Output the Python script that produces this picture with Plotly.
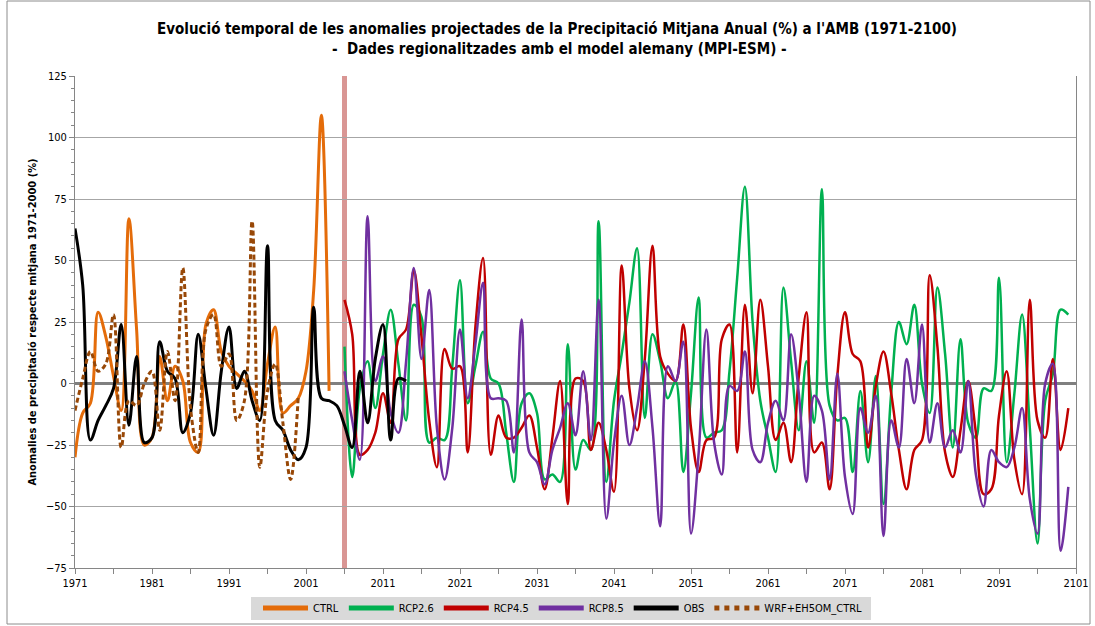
import plotly.graph_objects as go

# ---------------- data ----------------
ctrl_start = 1971
ctrl_values = [-30, -12, -8, 29, 19, 3, -11, 67, 22, -25, -22, 11, -7, 7, 1, -24, -28, 24, 30, 13,
               7, 4, 1, -3, -11, 8, 23, -12, -9, -6, 5, 38, 109, -3]

obs_start = 1971
obs_values = [63, 40, -23, -15, -9, -2, 24, -17, 11, -24, -22, 17, 5, 2, -20, -12, 20, -2, -21, 5,
              23, -2, 5, -7, -15, 56, -15, -19, -27, -31, -26, 31, -6, -7, -9, -17, -26, 5, -16, 10,
              24, -23, 2, 1]

wrf_start = 1971
wrf_values = [-11, 2, 13, 5, 8, 28, -26, -7, -9, 0, 5, -19, 13, -7, 47, -10, -28, 22, 28, 7,
              12, -15, -7, 66, -34, -3, 8, -16, -39, -5]

rcp_start = 2006
rcp26_values = [15, -38, -2, 9, -10, 12, 30, 8, -15, 32,
                27, -24, -22, -23, 7, 42, -8, 7, 21, 2,
                0, -20, -40, -8, -4, -12, -39, -37, -40, 16,
                -35, -23, -27, 66, -40, -7, 12, 33, 55, -14,
                20, 9, -6, 1, -36, -4, 35, -22, -20, -19,
                5, 43, 80, 25, -7, -22, -36, 39, 9, -19,
                9, -16, 79, -9, -15, -14, -36, -3, -32, 3,
                -49, -4, 25, 16, 32, 0, -12, 39, 12, -26,
                18, -16, -22, -2, -3, 43, -32, -4, 28, -18,
                -65, -7, 4, 30, 28]
rcp45_values = [34, 20, -29, -27, -20, -4, -16, 18, 22, 46,
                19, -15, -34, 14, 6, 7, -28, 23, 51, -29,
                -13, -22, -22, -18, -13, -26, -43, -22, 1, -49,
                2, 1, -27, -16, -27, -44, 48, -2, -19, 10,
                56, 11, 4, 1, 24, -18, -36, -23, -22, 18,
                24, -28, 32, -4, 34, 7, -23, -16, -32, 3,
                29, -28, -24, -43, 3, 29, 12, 9, -26, -1,
                13, -4, -27, -43, -27, -23, 44, 15, -28, -38,
                -19, 1, -20, -45, -43, -13, 5, -31, -45, 34,
                -15, -22, 10, -27, -10]
rcp85_values = [5, -15, -31, 68, 1, 11, -12, -20, 9, 47,
                10, 38, -18, -39, -18, 22, -6, 16, 41, -6,
                -6, -7, -28, 26, -28, -32, -41, -27, -18, -8,
                -21, 5, -23, 34, -55, -24, -5, -25, -10, 9,
                -18, -58, 7, 1, 17, -61, -28, 22, -24, -37,
                -1, -3, 13, -27, -32, -16, -7, -15, 20, -4,
                -40, -5, -11, -39, 4, -38, -53, -10, -20, -5,
                -62, -15, -26, 10, -8, 24, -24, -8, -26, -19,
                -28, 1, -37, -50, -27, -32, -34, -26, -10, -47,
                -61, 0, 8, -68, -42]

projection_start_year = 2006
x_tick_years = [1971, 1981, 1991, 2001, 2011, 2021, 2031, 2041, 2051, 2061, 2071, 2081, 2091, 2101]
y_tick_values = [-75, -50, -25, 0, 25, 50, 75, 100, 125]

title_text = ("<b>Evolució temporal de les anomalies projectades de la Precipitació Mitjana Anual (%) a l'AMB (1971-2100)</b><br>"
              "<b> -  Dades regionalitzades amb el model alemany (MPI-ESM) -</b>")
y_title = "<b>Anomalies de precipitació respecte mitjana 1971-2000 (%)</b>"


def years(start, vals):
    return list(range(start, start + len(vals)))


FONT = "Liberation Sans Narrow, DejaVu Sans Condensed, Arial, sans-serif"

series = [
    ("CTRL", ctrl_start, ctrl_values, "#E46C0A", 3, "solid"),
    ("RCP2.6", rcp_start, rcp26_values, "#00B050", 2.5, "solid"),
    ("RCP4.5", rcp_start, rcp45_values, "#C00000", 2.5, "solid"),
    ("RCP8.5", rcp_start, rcp85_values, "#7030A0", 2.5, "solid"),
    ("OBS", obs_start, obs_values, "#000000", 3, "solid"),
    ("WRF+EH5OM_CTRL", wrf_start, wrf_values, "#984807", 3, "5px,3px"),
]

fig = go.Figure()
for name, start, vals, color, w, dash in series:
    fig.add_trace(go.Scatter(
        x=years(start, vals), y=vals, name=name, mode="lines",
        line=dict(color=color, width=w, dash=dash, shape="spline", smoothing=1.0),
        hoverinfo="x+y+name", showlegend=False, legendgroup=name,
    ))
# legend-only entries with thicker sample lines (no data points drawn)
for name, start, vals, color, w, dash in series:
    fig.add_trace(go.Scatter(
        x=[None], y=[None], name=name, mode="lines", legendgroup=name,
        line=dict(color=color, width=5, dash=("dot" if dash != "solid" else "solid")),
        hoverinfo="skip", showlegend=True,
    ))

L, R, T, B = 75, 19, 76, 58
W, H = 1095, 626
pw, ph = W - L - R, H - T - B

def px_to_paper_x(px):
    return (px - L) / pw

def px_to_paper_y(py):
    return (H - B - py) / ph

fig.update_layout(
    width=W, height=H,
    margin=dict(l=L, r=R, t=T, b=B, autoexpand=False),
    paper_bgcolor="white", plot_bgcolor="white",
    font=dict(family=FONT, size=11, color="#000000"),
    title=dict(text=title_text, x=557 / W, xanchor="center", xref="container",
               y=1 - 34 / H, yanchor="top", yref="container",
               font=dict(family=FONT, size=15, color="#000000")),
    showlegend=True,
    legend=dict(orientation="h", x=px_to_paper_x(563), xanchor="center",
                y=px_to_paper_y(608), yanchor="middle",
                bgcolor="rgba(0,0,0,0)", font=dict(family=FONT, size=11, color="#000000"),
                itemwidth=45, tracegroupgap=0),
    xaxis=dict(range=[1971, 2101], tickmode="array", tickvals=x_tick_years,
               ticktext=[str(v) for v in x_tick_years], automargin=False,
               showgrid=False, zeroline=False,
               showline=True, linecolor="#868686", linewidth=1,
               ticks="outside", ticklen=5, tickcolor="#868686",
               minor=dict(dtick=5, tick0=1971, ticks="outside", ticklen=5, tickcolor="#868686", showgrid=False),
               tickfont=dict(family=FONT, size=11, color="#000000")),
    yaxis=dict(range=[-75, 125], tickmode="array", tickvals=y_tick_values, automargin=False,
               showgrid=True, gridcolor="#A6A6A6", gridwidth=1,
               zeroline=True, zerolinecolor="#808080", zerolinewidth=3,
               showline=True, linecolor="#868686", linewidth=1, mirror=True,
               ticks="outside", ticklen=5, tickcolor="#868686",
               minor=dict(dtick=5, tick0=0, ticks="outside", ticklen=3, tickcolor="#868686", showgrid=False),
               tickfont=dict(family=FONT, size=11, color="#000000"),
               title=dict(text=y_title, standoff=7, font=dict(family=FONT, size=11, color="#000000"))),
)

# projection start marker
fig.add_shape(type="line", x0=projection_start_year, x1=projection_start_year, xref="x",
              y0=0, y1=1, yref="paper", line=dict(color="#D99694", width=5), layer="between")

# legend background box
fig.add_shape(type="rect", xref="paper", yref="paper",
              x0=px_to_paper_x(251), x1=px_to_paper_x(871),
              y0=px_to_paper_y(620), y1=px_to_paper_y(597),
              line=dict(width=0), fillcolor="#D9D9D9", layer="above")

# outer chart border
fig.add_shape(type="rect", xref="paper", yref="paper",
              x0=px_to_paper_x(7), x1=px_to_paper_x(1090),
              y0=px_to_paper_y(624), y1=px_to_paper_y(1),
              line=dict(color="#8C8C8C", width=1), fillcolor="rgba(0,0,0,0)", layer="above")

fig.write_html("out.html", config={"displayModeBar": False},
               post_script="document.body.style.margin='0';")
